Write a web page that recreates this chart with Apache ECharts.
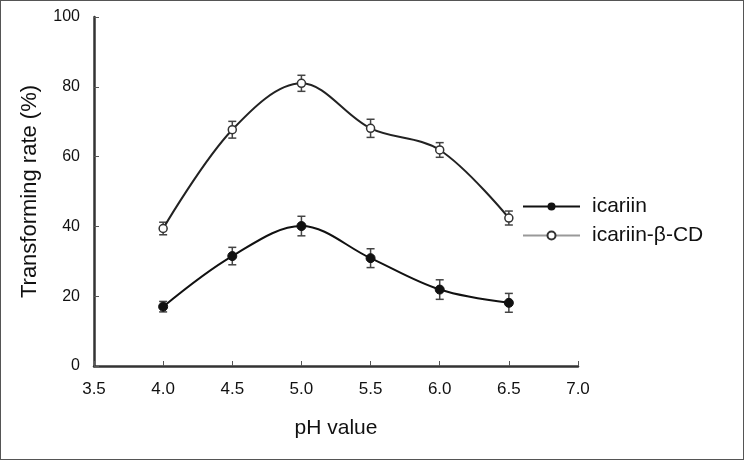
<!DOCTYPE html>
<html>
<head>
<meta charset="utf-8">
<script src="https://cdn.jsdelivr.net/npm/echarts@6/dist/echarts.min.js"></script>
<style>
  html, body { margin: 0; padding: 0; background: #fff; }
  #chart { width: 744px; height: 460px; position: relative; }
  #frame { position: absolute; left: 0; top: 0; width: 742px; height: 458px; border: 1px solid #555; pointer-events: none; }
</style>
</head>
<body>
<div id="chart"></div>
<div id="frame"></div>
<script>
// pH values and measured transforming rates (%)
const phValues = [4.0, 4.5, 5.0, 5.5, 6.0, 6.5];
const icariin = [17.0, 31.5, 40.1, 30.9, 21.9, 18.1];
const icariinErr = [1.5, 2.5, 2.8, 2.7, 2.8, 2.7];
const icariinCD = [39.4, 67.7, 81.0, 68.1, 61.9, 42.4];
const icariinCDErr = [1.8, 2.4, 2.3, 2.6, 2.1, 2.0];
const xTicks = [3.5, 4.0, 4.5, 5.0, 5.5, 6.0, 6.5, 7.0];

const FONT = '"Liberation Sans", Arial, sans-serif';

function pairs(xs, ys) {
  return xs.map((x, i) => [x, ys[i]]);
}
function errTriples(xs, ys, es) {
  return xs.map((x, i) => [x, ys[i], es[i]]);
}

// error bars via the axis scales
function renderErr(params, api) {
  const x = api.value(0), y = api.value(1), e = api.value(2);
  const top = api.coord([x, y + e]);
  const bot = api.coord([x, y - e]);
  const w = 4;
  const st = { stroke: '#444', lineWidth: 1.5 };
  return {
    type: 'group',
    children: [
      { type: 'line', shape: { x1: top[0], y1: top[1], x2: bot[0], y2: bot[1] }, style: st },
      { type: 'line', shape: { x1: top[0] - w, y1: top[1], x2: top[0] + w, y2: top[1] }, style: st },
      { type: 'line', shape: { x1: bot[0] - w, y1: bot[1], x2: bot[0] + w, y2: bot[1] }, style: st }
    ]
  };
}

const chart = echarts.init(document.getElementById('chart'));
chart.setOption({
  animation: false,
  backgroundColor: '#fff',
  textStyle: { fontFamily: FONT },
  grid: { left: 94, right: 166, top: 17, bottom: 94 },
  legend: {
    orient: 'vertical',
    left: 517,
    top: 191,
    itemWidth: 57,
    itemHeight: 10,
    itemGap: 8,
    textStyle: { fontFamily: FONT, fontSize: 21, color: '#111', padding: [0, 0, 0, 7] },
    data: [
      { name: 'icariin' },
      { name: 'icariin-β-CD', lineStyle: { color: '#999' } }
    ]
  },
  xAxis: {
    type: 'value',
    min: 3.5,
    max: 7.0,
    interval: 0.5,
    name: 'pH value',
    nameLocation: 'middle',
    nameGap: 52,
    nameTextStyle: { fontFamily: FONT, fontSize: 21, color: '#111' },
    axisLine: { lineStyle: { color: '#333', width: 2.5 } },
    axisTick: { inside: true, length: 5, lineStyle: { color: '#555' } },
    axisLabel: {
      fontFamily: FONT, fontSize: 17, color: '#111', margin: 15,
      formatter: v => xTicks.includes(Number(v.toFixed(1))) ? v.toFixed(1) : ''
    },
    splitLine: { show: false }
  },
  yAxis: {
    type: 'value',
    min: 0,
    max: 100,
    interval: 20,
    name: 'Transforming rate (%)',
    nameLocation: 'middle',
    nameGap: 53,
    nameTextStyle: { fontFamily: FONT, fontSize: 22, color: '#111' },
    axisLine: { show: true, lineStyle: { color: '#333', width: 2.5 } },
    axisTick: { show: true, inside: true, length: 5, lineStyle: { color: '#555' } },
    axisLabel: { fontFamily: FONT, fontSize: 16, color: '#111', margin: 14 },
    splitLine: { show: false }
  },
  series: [
    {
      name: 'icariin-err',
      type: 'custom',
      renderItem: renderErr,
      data: errTriples(phValues, icariin, icariinErr),
      z: 1
    },
    {
      name: 'icariin-β-CD-err',
      type: 'custom',
      renderItem: renderErr,
      data: errTriples(phValues, icariinCD, icariinCDErr),
      z: 1
    },
    {
      name: 'icariin',
      type: 'line',
      smooth: 0.35,
      data: pairs(phValues, icariin),
      symbol: 'circle',
      symbolSize: 9,
      lineStyle: { color: '#111', width: 2 },
      itemStyle: { color: '#111', borderColor: '#111' },
      z: 3
    },
    {
      name: 'icariin-β-CD',
      type: 'line',
      smooth: 0.35,
      data: pairs(phValues, icariinCD),
      symbol: 'circle',
      symbolSize: 8,
      lineStyle: { color: '#222', width: 2 },
      itemStyle: { color: '#fff', borderColor: '#333', borderWidth: 1.5 },
      z: 3
    }
  ]
});
</script>
</body>
</html>
